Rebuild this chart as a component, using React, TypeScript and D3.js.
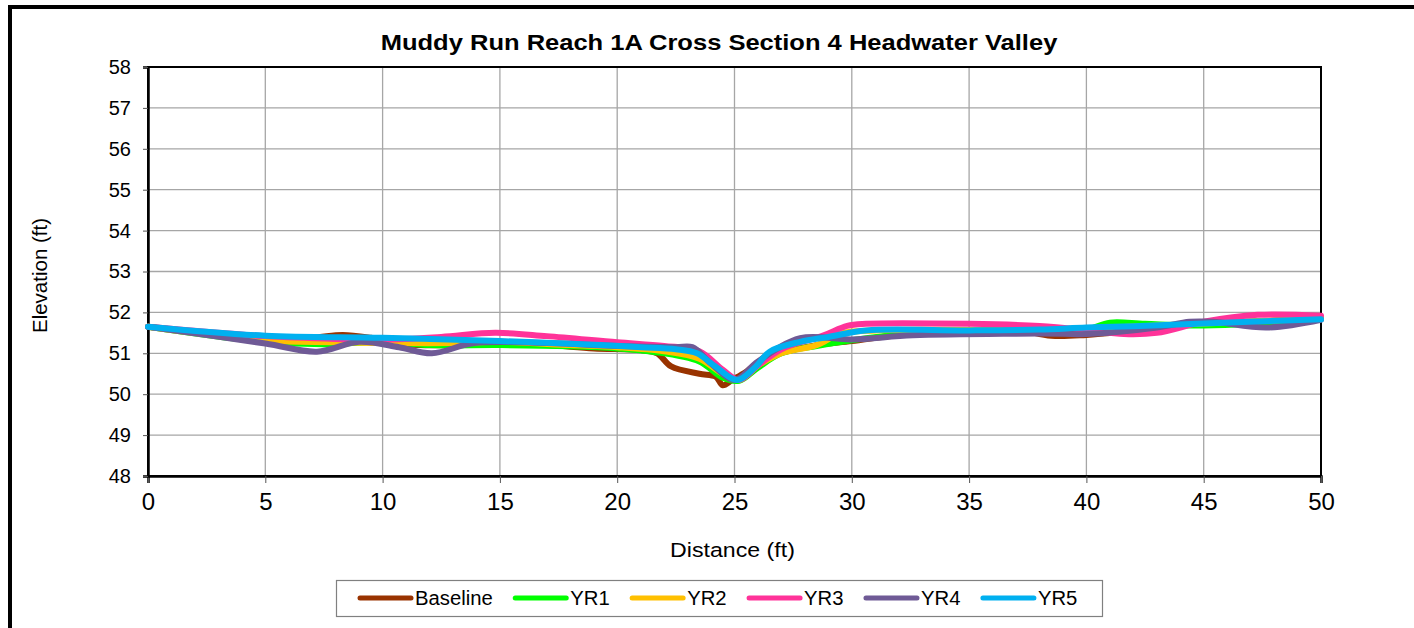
import React, { useEffect, useRef } from 'react';
import * as d3 from 'd3';

// Muddy Run Reach 1A, cross section 4 (headwater valley) - distance (ft) vs elevation (ft)
const baselineX = [0, 3, 5, 7, 8.3, 9.5, 11, 13, 15, 17, 19, 21, 21.7, 22.3, 23.5, 24.2, 24.5, 24.9, 25.5, 26.3, 27, 28.5, 30, 32, 35, 37, 38.5, 40, 42, 45, 48, 50];
const baselineY = [51.65, 51.47, 51.38, 51.38, 51.45, 51.38, 51.22, 51.2, 51.24, 51.2, 51.12, 51.08, 51.0, 50.68, 50.5, 50.43, 50.22, 50.35, 50.55, 50.9, 51.02, 51.2, 51.3, 51.45, 51.55, 51.58, 51.43, 51.45, 51.55, 51.72, 51.8, 51.85];

const yr1X = [0, 5, 7.5, 10, 12, 15, 18, 20, 21.5, 23.5, 24.5, 25.2, 26, 27, 28.5, 30, 33, 36, 38, 40, 41, 42.5, 45, 47, 50];
const yr1Y = [51.65, 51.28, 51.22, 51.28, 51.2, 51.2, 51.17, 51.12, 51.04, 50.8, 50.4, 50.33, 50.65, 51.0, 51.18, 51.32, 51.5, 51.55, 51.55, 51.58, 51.75, 51.72, 51.68, 51.72, 51.85];

const yr2X = [0, 5, 8, 10.5, 13, 15, 18, 20, 22, 23.5, 24.5, 25.2, 26, 27, 28.5, 29.5, 31, 35, 38, 40, 45, 50];
const yr2Y = [51.65, 51.31, 51.27, 51.25, 51.25, 51.28, 51.2, 51.15, 51.05, 50.87, 50.5, 50.35, 50.7, 51.0, 51.2, 51.48, 51.56, 51.57, 51.56, 51.6, 51.73, 51.85];

const yr3X = [0, 5, 8, 10, 12.5, 14.8, 17, 20, 22, 23.5, 24.5, 25.2, 26, 27, 28.8, 29.8, 30.6, 35, 38, 40, 41.6, 43, 45, 47.3, 50];
const yr3Y = [51.65, 51.42, 51.35, 51.33, 51.4, 51.5, 51.42, 51.27, 51.18, 51.05, 50.6, 50.35, 50.7, 51.1, 51.44, 51.67, 51.72, 51.72, 51.67, 51.57, 51.47, 51.5, 51.77, 51.94, 51.92];

const yr4X = [0, 5, 7.2, 9, 10.7, 12.1, 13.9, 17, 20, 22.5, 23.2, 24, 25, 26, 27.8, 30, 32.6, 36.9, 39, 40, 43, 44.4, 45.4, 47.7, 50];
const yr4Y = [51.65, 51.24, 51.04, 51.28, 51.15, 51.0, 51.25, 51.25, 51.18, 51.15, 51.15, 50.75, 50.35, 50.8, 51.37, 51.34, 51.44, 51.48, 51.48, 51.47, 51.63, 51.77, 51.77, 51.63, 51.82];

const yr5X = [0, 5, 10, 15, 19.3, 21, 22.5, 23.4, 24.2, 25.1, 25.9, 26.5, 27.8, 29, 30.6, 35, 38, 40, 42, 45, 50];
const yr5Y = [51.65, 51.43, 51.38, 51.3, 51.2, 51.15, 51.1, 51.0, 50.67, 50.35, 50.67, 51.04, 51.28, 51.4, 51.56, 51.56, 51.58, 51.63, 51.66, 51.73, 51.83];

const seriesNames = ['Baseline', 'YR1', 'YR2', 'YR3', 'YR4', 'YR5'];
const seriesColors = ['#993300', '#00FF00', '#FFC000', '#FF3399', '#6F5A96', '#00B0F0'];
const seriesX = [baselineX, yr1X, yr2X, yr3X, yr4X, yr5X];
const seriesY = [baselineY, yr1Y, yr2Y, yr3Y, yr4Y, yr5Y];

const xTicks = [0, 5, 10, 15, 20, 25, 30, 35, 40, 45, 50];
const yTicks = [48, 49, 50, 51, 52, 53, 54, 55, 56, 57, 58];

const FONT = "'Liberation Sans', Arial, sans-serif";

export default function App() {
  const ref = useRef<SVGSVGElement>(null);

  useEffect(() => {
    const svg = d3.select(ref.current);
    svg.selectAll('*').remove();

    const margin = { top: 67, right: 93, bottom: 152, left: 148 };
    const width = 1414 - margin.left - margin.right;
    const height = 628 - margin.top - margin.bottom;

    const x = d3.scaleLinear().domain([0, 50]).range([0, width]);
    const y = d3.scaleLinear().domain([48, 58]).range([height, 0]);

    // outer chart frame
    svg.append('path')
      .attr('d', 'M10,640V7H1420')
      .attr('fill', 'none')
      .attr('stroke', '#000')
      .attr('stroke-width', 4);

    // the source picture is stretched sideways a bit, so text gets a small x scale
    svg.append('text')
      .attr('transform', 'translate(719,50) scale(1.16,1)')
      .attr('text-anchor', 'middle')
      .attr('font-family', FONT)
      .attr('font-size', 22)
      .attr('font-weight', 'bold')
      .text('Muddy Run Reach 1A Cross Section 4 Headwater Valley');

    const g = svg.append('g')
      .attr('transform', 'translate(' + margin.left + ',' + margin.top + ')');

    // grid
    g.append('g')
      .selectAll('line')
      .data(xTicks)
      .enter().append('line')
        .attr('x1', (d) => x(d))
        .attr('x2', (d) => x(d))
        .attr('y1', 0)
        .attr('y2', height)
        .attr('stroke', '#a6a6a6')
        .attr('stroke-width', 1.3);

    g.append('g')
      .selectAll('line')
      .data(yTicks)
      .enter().append('line')
        .attr('x1', 0)
        .attr('x2', width)
        .attr('y1', (d) => y(d))
        .attr('y2', (d) => y(d))
        .attr('stroke', '#a6a6a6')
        .attr('stroke-width', 1.3);

    g.append('rect')
      .attr('width', width)
      .attr('height', height)
      .attr('fill', 'none')
      .attr('stroke', '#000')
      .attr('stroke-width', 2);

    // axes
    const xAxis = g.append('g')
      .attr('transform', 'translate(0,' + height + ')')
      .call(d3.axisBottom(x).tickValues(xTicks).tickSize(7).tickPadding(10).tickFormat(d3.format('d')));
    xAxis.select('.domain').attr('stroke', '#000').attr('stroke-width', 2.5);
    xAxis.selectAll('.tick line').attr('stroke', '#555');
    xAxis.selectAll('text')
      .attr('font-family', FONT)
      .attr('font-size', 24)
      .attr('fill', '#000');

    const yAxis = g.append('g')
      .call(d3.axisLeft(y).tickValues(yTicks).tickSize(5).tickPadding(12).tickFormat(d3.format('d')));
    yAxis.select('.domain').attr('stroke', '#000').attr('stroke-width', 2.5);
    yAxis.selectAll('.tick line').attr('stroke', '#555');
    yAxis.selectAll('text')
      .attr('font-family', FONT)
      .attr('font-size', 20)
      .attr('fill', '#000');

    svg.append('text')
      .attr('transform', 'translate(' + (margin.left + width / 2 - 2) + ',557) scale(1.13,1)')
      .attr('text-anchor', 'middle')
      .attr('font-family', FONT)
      .attr('font-size', 20.5)
      .text('Distance (ft)');

    svg.append('text')
      .attr('transform', 'translate(47,' + (margin.top + height / 2 + 4) + ') rotate(-90)')
      .attr('text-anchor', 'middle')
      .attr('font-family', FONT)
      .attr('font-size', 20.5)
      .text('Elevation (ft)');

    // series
    const line = d3.line<[number, number]>()
      .x((d) => x(d[0]))
      .y((d) => y(d[1]))
      .curve(d3.curveCatmullRom.alpha(0.5));

    seriesNames.forEach((name, i) => {
      const pts: [number, number][] = seriesX[i].map((v, j) => [v, seriesY[i][j]]);
      g.append('path')
        .datum(pts)
        .attr('fill', 'none')
        .attr('stroke', seriesColors[i])
        .attr('stroke-width', 6)
        .attr('stroke-linejoin', 'round')
        .attr('stroke-linecap', 'round')
        .attr('d', line);
    });

    // legend
    const legend = svg.append('g');
    legend.append('rect')
      .attr('x', 336.5)
      .attr('y', 580.5)
      .attr('width', 766)
      .attr('height', 36)
      .attr('fill', '#fff')
      .attr('stroke', '#808080')
      .attr('stroke-width', 1.2);

    const sx = 1.04;
    let lx = 360;
    seriesNames.forEach((name, i) => {
      legend.append('line')
        .attr('x1', lx)
        .attr('x2', lx + 51)
        .attr('y1', 598)
        .attr('y2', 598)
        .attr('stroke', seriesColors[i])
        .attr('stroke-width', 5)
        .attr('stroke-linecap', 'round');
      const t = legend.append('text')
        .attr('transform', 'translate(' + (lx + 55) + ',605) scale(' + sx + ',1)')
        .attr('font-family', FONT)
        .attr('font-size', 19.5)
        .text(name);
      const w = (t.node() as SVGTextElement).getComputedTextLength() * sx;
      lx = lx + 55 + w + 22.5;
    });
  }, []);

  return (
    <svg
      ref={ref}
      width={1414}
      height={628}
      style={{ position: 'absolute', left: 0, top: 0, background: '#fff' }}
    />
  );
}
